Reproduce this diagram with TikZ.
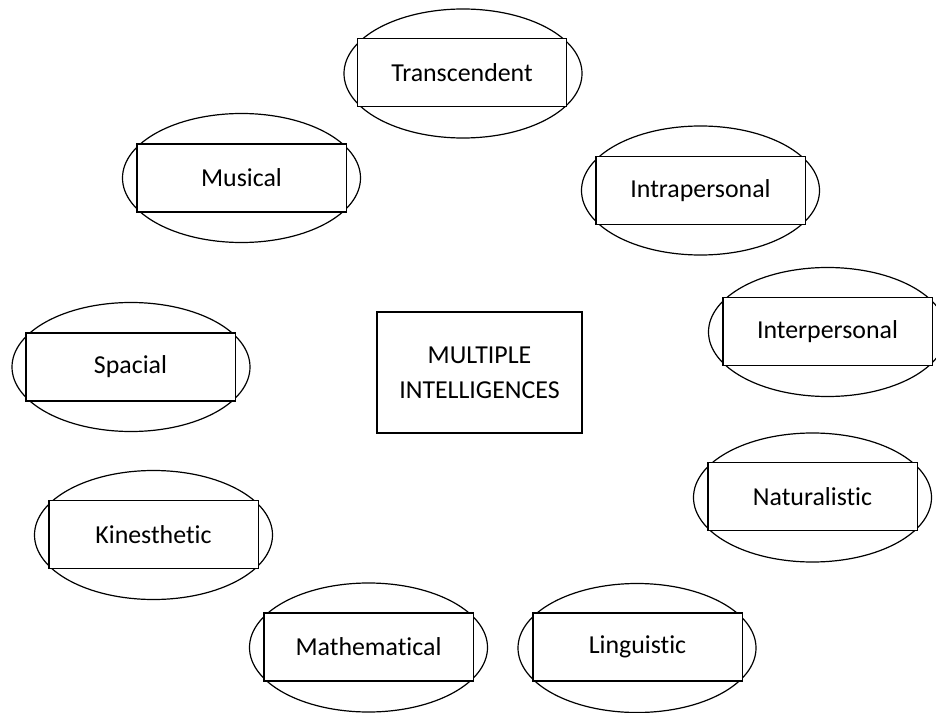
\documentclass[tikz,border=0pt]{standalone}
\usepackage{fontspec}
\setmainfont{Carlito}[Ligatures={NoCommon}]
\usetikzlibrary{shapes.geometric}
\begin{document}
\begin{tikzpicture}[x=0.75pt,y=-0.75pt,
  ring/.style={draw,ellipse,line width=0.9pt,minimum width=178.5pt,minimum height=96.75pt,inner sep=0pt},
  lbl/.style={draw,fill=white,rectangle,line width=1pt,minimum width=157pt,minimum height=51pt,inner sep=0pt,font=\fontsize{19.4}{23}\selectfont},
  core/.style={draw,rectangle,line width=1pt,minimum width=153.75pt,minimum height=90.75pt,inner sep=0pt,align=center,font=\fontsize{19.4}{26}\selectfont}]
\useasboundingbox (0,0) rectangle (936,713);
\node[ring] (eTr) at (463,73.5) {};
\node[lbl]  (tTr) at (462,72.5) {Transcendent};
\node[ring] (eMu) at (241.5,178) {};
\node[lbl]  (tMu) at (241.5,178) {Musical};
\node[ring] (eIa) at (700.5,190.5) {};
\node[lbl]  (tIa) at (700.5,190.5) {Intrapersonal};
\node[ring] (eIe) at (827.5,332) {};
\node[lbl]  (tIe) at (827.5,331.5) {Interpersonal};
\node[ring] (eSp) at (131,367) {};
\node[lbl]  (tSp) at (130.5,367) {Spacial};
\node[core] (mi) at (479.5,372.5) {MULTIPLE\\INTELLIGENCES};
\node[ring] (eKi) at (153.5,535) {};
\node[lbl]  (tKi) at (153.5,534.5) {Kinesthetic};
\node[ring] (eNa) at (812.5,497.5) {};
\node[lbl]  (tNa) at (812.5,496.5) {Naturalistic};
\node[ring] (eMa) at (368.5,647.5) {};
\node[lbl]  (tMa) at (368.5,647) {Mathematical};
\node[ring] (eLi) at (637,648) {};
\node[lbl]  (tLi) at (637.5,647) {Linguistic};
\end{tikzpicture}
\end{document}
